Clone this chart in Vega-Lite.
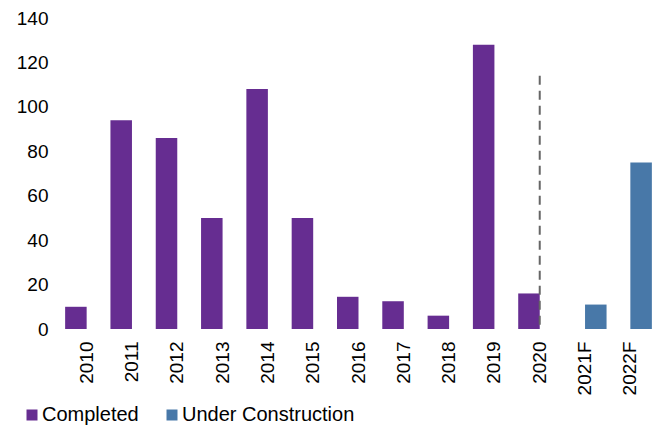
{
  "$schema": "https://vega.github.io/schema/vega-lite/v6.json",
  "autosize": {"type": "none"},
  "width": 589,
  "height": 311,
  "padding": {"left": 64, "top": 18, "right": 10, "bottom": 98},
  "config": {
    "font": "Liberation Sans",
    "view": {"stroke": null},
    "axis": {"labelFont": "Liberation Sans", "labelFontSize": 19, "labelColor": "#000000", "grid": false, "domain": false, "ticks": false, "title": null},
    "legend": {"labelFont": "Liberation Sans", "labelFontSize": 20, "labelColor": "#000000", "labelLimit": 400}
  },
  "datasets": {
    "bars": [
      {"year": "2010", "series": "Completed", "value": 10},
      {"year": "2011", "series": "Completed", "value": 94},
      {"year": "2012", "series": "Completed", "value": 86},
      {"year": "2013", "series": "Completed", "value": 50},
      {"year": "2014", "series": "Completed", "value": 108},
      {"year": "2015", "series": "Completed", "value": 50},
      {"year": "2016", "series": "Completed", "value": 14.5},
      {"year": "2017", "series": "Completed", "value": 12.5},
      {"year": "2018", "series": "Completed", "value": 6},
      {"year": "2019", "series": "Completed", "value": 128},
      {"year": "2020", "series": "Completed", "value": 16},
      {"year": "2021F", "series": "Under Construction", "value": 11},
      {"year": "2022F", "series": "Under Construction", "value": 75}
    ],
    "divider": [
      {"year": "2020", "top": 114, "bottom": 0}
    ]
  },
  "layer": [
    {
      "data": {"name": "bars"},
      "mark": {"type": "bar"},
      "encoding": {
        "x": {
          "field": "year", "type": "nominal",
          "scale": {"domain": ["2010","2011","2012","2013","2014","2015","2016","2017","2018","2019","2020","2021F","2022F"], "paddingInner": 0.05, "paddingOuter": 0.025},
          "axis": {"labelAngle": -90, "labelPadding": 12}
        },
        "xOffset": {
          "field": "series", "type": "nominal",
          "scale": {"domain": ["Completed", "Under Construction"], "paddingInner": 0, "paddingOuter": 0}
        },
        "y": {
          "field": "value", "type": "quantitative",
          "scale": {"domain": [0, 140], "nice": false},
          "axis": {"values": [0,20,40,60,80,100,120,140], "labelPadding": 16}
        },
        "color": {
          "field": "series", "type": "nominal",
          "scale": {"domain": ["Completed", "Under Construction"], "range": ["#662D91", "#4878A8"]},
          "legend": {"title": null, "orient": "none", "direction": "horizontal", "legendX": -42, "legendY": 387, "symbolType": "square", "symbolSize": 121, "symbolStrokeWidth": 0, "labelOffset": 0, "columnPadding": 23}
        }
      }
    },
    {
      "data": {"name": "divider"},
      "mark": {"type": "rule", "color": "#666666", "strokeWidth": 2, "strokeDash": [9, 6]},
      "encoding": {
        "x": {"field": "year", "type": "nominal"},
        "y": {"field": "top", "type": "quantitative"},
        "y2": {"field": "bottom"}
      }
    }
  ]
}
